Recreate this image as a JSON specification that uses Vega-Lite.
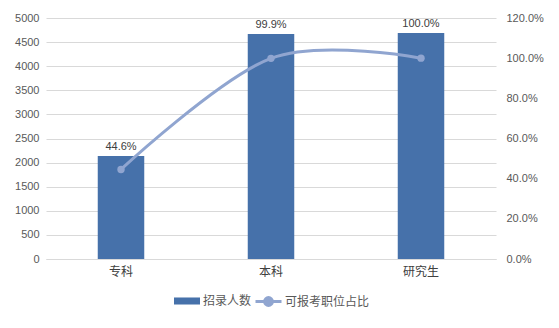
{
  "$schema": "https://vega.github.io/schema/vega-lite/v6.json",
  "width": 450,
  "height": 241,
  "autosize": {"type": "none"},
  "padding": {"left": 46, "top": 18, "right": 63, "bottom": 69},
  "background": "white",
  "data": {"values": [
    {"level": "专科", "count": 2135, "rate": 0.446},
    {"level": "本科", "count": 4668, "rate": 0.999},
    {"level": "研究生", "count": 4690, "rate": 1.0}
  ]},
  "config": {
    "view": {"stroke": null},
    "font": "Noto Sans CJK SC",
    "axis": {"labelFont": "Liberation Sans", "labelFontSize": 11, "labelColor": "#595959", "ticks": false, "domain": false, "gridColor": "#d9d9d9", "title": null},
    "legend": {"labelFont": "Noto Sans CJK SC", "labelFontSize": 12, "labelColor": "#595959", "layout": {"bottom": {"anchor": "middle", "direction": "horizontal", "margin": 2}}}
  },
  "encoding": {
    "x": {"field": "level", "type": "nominal", "sort": null,
      "scale": {"paddingInner": 0.69, "paddingOuter": 0.345},
      "axis": {"labelAngle": 0, "domain": true, "domainColor": "#d9d9d9", "labelPadding": 7, "labelFont": "Noto Sans CJK SC", "labelFontSize": 12, "labelColor": "#404040"}}
  },
  "layer": [
    {
      "mark": {"type": "bar"},
      "encoding": {
        "y": {"field": "count", "type": "quantitative", "scale": {"domain": [0, 5000]},
          "axis": {"values": [0,500,1000,1500,2000,2500,3000,3500,4000,4500,5000], "format": "d", "grid": true, "labelPadding": 7}},
        "color": {"datum": "招录人数", "type": "nominal",
          "scale": {"domain": ["招录人数"], "range": ["#4671aa"]},
          "legend": {"orient": "bottom", "title": null, "symbolType": "M-1,-0.27H1V0.27H-1Z", "symbolSize": 676, "offset": 10, "labelOffset": 2}}
      }
    },
    {
      "mark": {"type": "text", "baseline": "bottom", "dy": -4, "fontSize": 11, "font": "Liberation Sans", "color": "#404040"},
      "encoding": {
        "y": {"field": "count", "type": "quantitative", "scale": {"domain": [0, 5000]}, "axis": null},
        "text": {"field": "rate", "type": "quantitative", "format": ".1%"}
      }
    },
    {
      "mark": {"type": "line", "interpolate": "cardinal", "strokeWidth": 3, "color": "#90a5d0"},
      "encoding": {
        "y": {"field": "rate", "type": "quantitative", "scale": {"domain": [0, 1.2]},
          "axis": {"orient": "right", "values": [0,0.2,0.4,0.6,0.8,1.0,1.2], "format": ".1%", "grid": false, "labelPadding": 10}},
        "stroke": {"datum": "可报考职位占比", "type": "nominal",
          "scale": {"domain": ["可报考职位占比"], "range": ["#90a5d0"]},
          "legend": {"orient": "bottom", "title": null, "symbolType": "M-1,0H1M0.3,0A0.3,0.3 0 1,1 -0.3,0A0.3,0.3 0 1,1 0.3,0Z", "symbolSize": 676, "symbolStrokeWidth": 3, "symbolFillColor": "#90a5d0", "offset": 10, "labelOffset": 2}}
      }
    },
    {
      "mark": {"type": "point", "filled": true, "size": 55, "opacity": 1, "color": "#90a5d0"},
      "encoding": {
        "y": {"field": "rate", "type": "quantitative", "scale": {"domain": [0, 1.2]}, "axis": null}
      }
    }
  ],
  "resolve": {"scale": {"y": "independent", "color": "independent", "stroke": "independent"}}
}
